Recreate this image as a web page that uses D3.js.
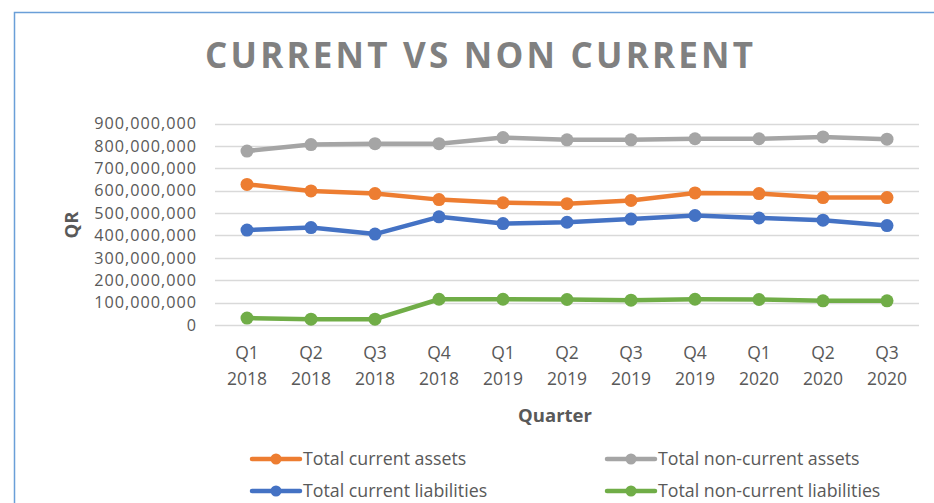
<!DOCTYPE html>
<html>
<head>
<meta charset="utf-8">
<script src="https://cdn.jsdelivr.net/npm/d3@7"></script>
<style>
  html, body { margin: 0; padding: 0; background: #fff; }
  svg { display: block; }
</style>
</head>
<body>
<div id="main"></div>
<script>
const quarters = ['Q1 2018', 'Q2 2018', 'Q3 2018', 'Q4 2018', 'Q1 2019', 'Q2 2019',
                  'Q3 2019', 'Q4 2019', 'Q1 2020', 'Q2 2020', 'Q3 2020'];
const currentAssets = [628e6, 599e6, 587e6, 560e6, 546e6, 542e6, 556e6, 590e6, 587e6, 569e6, 569e6];
const nonCurrentAssets = [777e6, 806e6, 810e6, 810e6, 837e6, 827e6, 827e6, 832e6, 832e6, 840e6, 830e6];
const currentLiabilities = [424e6, 435e6, 406e6, 483e6, 453e6, 459e6, 473e6, 489e6, 478e6, 468e6, 444e6];
const nonCurrentLiabilities = [31e6, 26e6, 26e6, 115e6, 115e6, 114e6, 111e6, 115e6, 114e6, 108e6, 108e6];
const yTicks = [0, 100e6, 200e6, 300e6, 400e6, 500e6, 600e6, 700e6, 800e6, 900e6];

const series = [
  { name: 'Total current assets', values: currentAssets, color: '#ED7D31' },
  { name: 'Total non-current assets', values: nonCurrentAssets, color: '#A5A5A5' },
  { name: 'Total current liabilities', values: currentLiabilities, color: '#4472C4' },
  { name: 'Total non-current liabilities', values: nonCurrentLiabilities, color: '#70AD47' }
];

const W = 934, H = 503;
const textColor = '#595959';
const font = "'Open Sans', sans-serif";

let svg = d3.select('#main')
  .append('svg')
  .attr('width', W)
  .attr('height', H);

// chart frame (only top and left show inside the window)
svg.append('rect')
  .attr('x', 14.5).attr('y', 12.5)
  .attr('width', W + 20).attr('height', H + 20)
  .attr('fill', '#fff')
  .attr('stroke', '#6A9FD8')
  .attr('stroke-width', 1.5);

// title
svg.append('text')
  .text('CURRENT VS NON CURRENT')
  .attr('x', 205)
  .attr('y', 67.5)
  .attr('textLength', 548)
  .attr('lengthAdjust', 'spacing')
  .style('font-family', font)
  .style('font-weight', 700)
  .style('font-size', '35px')
  .attr('fill', '#808080');

const x = d3.scaleBand()
  .domain(quarters)
  .range([215, 919]);

const y = d3.scaleLinear()
  .domain([0, 900e6])
  .range([325, 123.5]);

// gridlines
svg.append('g')
  .selectAll('line')
  .data(yTicks)
  .enter()
  .append('line')
    .attr('x1', 215)
    .attr('x2', 919)
    .attr('y1', d => Math.round(y(d)) + 0.5)
    .attr('y2', d => Math.round(y(d)) + 0.5)
    .attr('stroke', '#D9D9D9')
    .attr('stroke-width', 1.5);

// y axis labels
const yAxis = svg.append('g')
  .attr('transform', 'translate(205,0)')
  .call(d3.axisLeft(y).tickValues(yTicks).tickFormat(d3.format(',')).tickSize(0).tickPadding(8));
yAxis.select('.domain').remove();
yAxis.selectAll('text')
  .style('font-family', font)
  .style('font-size', '16.2px')
  .style('letter-spacing', '1px')
  .attr('fill', textColor);

// x axis labels (two lines)
const xAxis = svg.append('g')
  .attr('transform', 'translate(0,340)')
  .call(d3.axisBottom(x).tickSize(0).tickPadding(0).tickFormat(''));
xAxis.select('.domain').remove();
xAxis.selectAll('.tick').each(function (d) {
  const parts = d.split(' ');
  const t = d3.select(this).append('text')
    .attr('text-anchor', 'middle')
    .style('font-family', font)
    .style('font-size', '17.5px')
    .attr('fill', textColor);
  t.append('tspan').attr('x', 0).attr('y', 19).text(parts[0]);
  t.append('tspan').attr('x', 0).attr('y', 44.5).text(parts[1]);
});

// axis titles
svg.append('text')
  .text('Quarter')
  .attr('x', 555)
  .attr('y', 422)
  .attr('text-anchor', 'middle')
  .style('font-family', font)
  .style('font-weight', 700)
  .style('font-size', '18.5px')
  .attr('fill', textColor);

svg.append('text')
  .text('QR')
  .attr('transform', 'translate(78,225) rotate(-90)')
  .attr('text-anchor', 'middle')
  .style('font-family', font)
  .style('font-weight', 700)
  .style('font-size', '18.5px')
  .attr('fill', textColor);

// lines + markers
const line = d3.line()
  .x((d, i) => x(quarters[i]) + x.bandwidth() / 2)
  .y(d => y(d));

series.forEach(s => {
  svg.append('path')
    .datum(s.values)
    .attr('d', line)
    .attr('fill', 'none')
    .attr('stroke', s.color)
    .attr('stroke-width', 4.5)
    .attr('stroke-linejoin', 'round');

  svg.append('g')
    .selectAll('circle')
    .data(s.values)
    .enter()
    .append('circle')
      .attr('cx', (d, i) => x(quarters[i]) + x.bandwidth() / 2)
      .attr('cy', d => y(d))
      .attr('r', 6.5)
      .attr('fill', s.color);
});

// legend
const legendPos = [[252, 459], [607, 459], [252, 491], [607, 491]];
const legend = svg.append('g')
  .selectAll('g')
  .data(series)
  .enter()
  .append('g')
    .attr('transform', (d, i) => `translate(${legendPos[i][0]},${legendPos[i][1]})`);

legend.append('line')
  .attr('x1', 0).attr('x2', 48)
  .attr('y1', 0).attr('y2', 0)
  .attr('stroke', d => d.color)
  .attr('stroke-width', 4.5)
  .attr('stroke-linecap', 'round');

legend.append('circle')
  .attr('cx', 24).attr('cy', 0)
  .attr('r', 5.5)
  .attr('fill', d => d.color);

legend.append('text')
  .text(d => d.name)
  .attr('x', 51)
  .attr('y', 6)
  .style('font-family', font)
  .style('font-size', '17.8px')
  .attr('fill', textColor);
</script>
</body>
</html>
